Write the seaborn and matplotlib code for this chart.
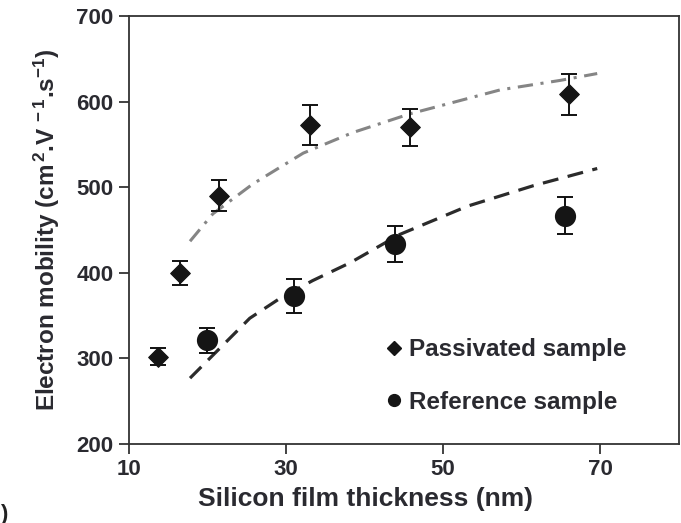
import matplotlib
matplotlib.use("Agg")
import matplotlib.pyplot as plt
from matplotlib.lines import Line2D
import pandas as pd
import seaborn as sns

# measured data
pass_x = [13.7, 16.5, 21.5, 33.0, 45.8, 66.0]
pass_y = [302, 400, 490, 573, 570, 609]
pass_err = [10, 14, 18, 23, 22, 24]

ref_x = [20.0, 31.0, 43.9, 65.5]
ref_y = [321, 373, 434, 467]
ref_err = [15, 20, 21, 22]

# fitted curves
pass_fit_x = [17.8, 20.7, 25.8, 32.2, 38.5, 45.8, 48.7, 57.3, 64.9, 69.6]
pass_fit_y = [437, 469, 504, 540, 564, 586, 593, 614, 625, 633]

ref_fit_x = [17.8, 21.6, 25.4, 29.2, 33.4, 38.2, 42.4, 44.5, 53.1, 61.5, 69.6]
ref_fit_y = [277, 312, 347, 370, 391, 412, 434, 445, 478, 502, 522]

x_ticks = [10, 30, 50, 70]
y_ticks = [200, 300, 400, 500, 600, 700]

sns.set_style("ticks")
plt.rcParams["font.family"] = ["Liberation Sans", "DejaVu Sans"]
plt.rcParams["font.weight"] = "bold"
plt.rcParams["mathtext.fontset"] = "custom"
plt.rcParams["mathtext.bf"] = "Liberation Sans:bold"
plt.rcParams["mathtext.rm"] = "Liberation Sans:bold"
plt.rcParams["mathtext.default"] = "bf"

TXT = "#2a2a30"
MK = "#151515"

fig = plt.figure(figsize=(6.81, 5.23), dpi=100)
ax = fig.add_axes([0.189, 0.151, 0.808, 0.818])

sns.lineplot(x=pass_fit_x, y=pass_fit_y, ax=ax, color="#858585",
             linewidth=2.2, linestyle=(0, (5, 2.5, 1, 2.5)))
sns.lineplot(x=ref_fit_x, y=ref_fit_y, ax=ax, color="#2b2b2b",
             linewidth=2.3, linestyle=(0, (5, 3)))

ax.errorbar(pass_x, pass_y, yerr=pass_err, fmt="none", ecolor="#111111",
            elinewidth=1.4, capsize=6, capthick=1.4)
ax.errorbar(ref_x, ref_y, yerr=ref_err, fmt="none", ecolor="#111111",
            elinewidth=1.4, capsize=6, capthick=1.4)

df_p = pd.DataFrame({"x": pass_x, "y": pass_y})
df_r = pd.DataFrame({"x": ref_x, "y": ref_y})
sns.scatterplot(data=df_p, x="x", y="y", marker="D", s=100, color=MK,
                edgecolor=MK, ax=ax, zorder=5)
sns.scatterplot(data=df_r, x="x", y="y", marker="o", s=200, color=MK,
                edgecolor=MK, ax=ax, zorder=5)

ax.set_xlim(10, 80)
ax.set_ylim(200, 700)
ax.set_xticks(x_ticks)
ax.set_yticks(y_ticks)
ax.tick_params(direction="out", length=7, width=1.2, labelsize=16,
               labelcolor=TXT, colors="#222222", pad=4)
for lab in ax.get_xticklabels() + ax.get_yticklabels():
    lab.set_fontweight("bold")
for sp in ax.spines.values():
    sp.set_linewidth(1.3)
    sp.set_color("#333333")

ax.set_xlabel("Silicon film thickness (nm)", fontsize=19, fontweight="bold",
              color=TXT)
ax.xaxis.set_label_coords(0.43, -0.1)
ax.set_ylabel(r"Electron mobility (cm$^{\,2}$.V$^{\,-1}$.s$^{-1}$)", fontsize=17.5,
              fontweight="bold", color=TXT, labelpad=10)

handles = [Line2D([], [], marker="D", color=MK, linestyle="none", markersize=7.5),
           Line2D([], [], marker="o", color=MK, linestyle="none", markersize=8.5)]
leg = ax.legend(handles, ["Passivated sample", "Reference sample"],
                loc="lower left", bbox_to_anchor=(0.43, 0.02), frameon=False,
                handlelength=0.6, handletextpad=0.3, labelspacing=1.2,
                prop={"size": 17.5, "weight": "bold"})
for t in leg.get_texts():
    t.set_color(TXT)

fig.text(0.0, 0.005, ")", fontsize=16, color="#222222")

fig.savefig("out.png", dpi=100)
